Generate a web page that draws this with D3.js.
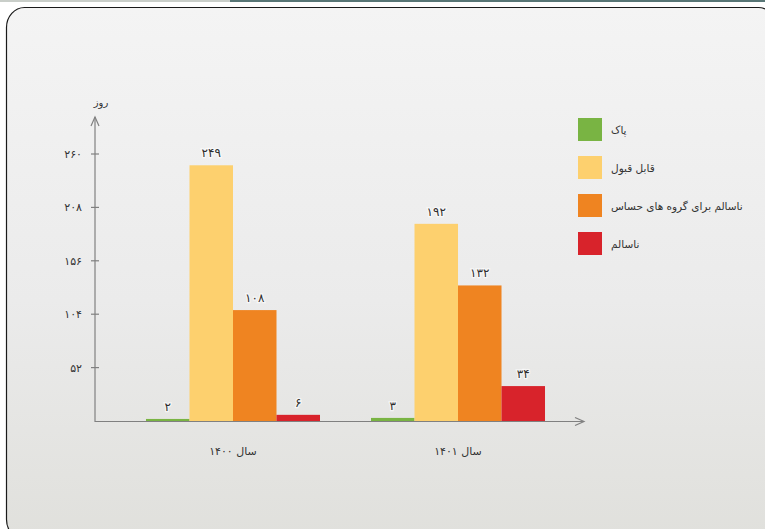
<!DOCTYPE html>
<html>
<head>
<meta charset="utf-8">
<script src="https://cdn.jsdelivr.net/npm/d3@7"></script>
<style>
  html, body { margin: 0; padding: 0; background: #ffffff; }
  svg { display: block; }
  text { font-family: "DejaVu Sans", "Noto Sans", sans-serif; }
</style>
</head>
<body>
<svg id="chart" width="765" height="529"></svg>
<script>
// Air quality days per year, by category
const years = ["سال ۱۴۰۰", "سال ۱۴۰۱"];
const categories = ["پاک", "قابل قبول", "ناسالم برای گروه های حساس", "ناسالم"];
const colors = ["#79b443", "#fdd06e", "#ef8421", "#d8232b"];
const values1400 = [2, 249, 108, 6];
const values1401 = [3, 192, 132, 34];
const yTicks = [52, 104, 156, 208, 260];
const yLabel = "روز";

const series = [values1400, values1401];
const faDigits = n => String(n).replace(/\d/g, d => "۰۱۲۳۴۵۶۷۸۹"[d]);

const svg = d3.select("#chart");

// background panel
const defs = svg.append("defs");
const grad = defs.append("linearGradient").attr("id", "bg").attr("x1", 0).attr("y1", 0).attr("x2", 0).attr("y2", 1);
grad.append("stop").attr("offset", "0%").attr("stop-color", "#f4f4f4");
grad.append("stop").attr("offset", "55%").attr("stop-color", "#ebebeb");
grad.append("stop").attr("offset", "100%").attr("stop-color", "#e0e0dc");

svg.append("rect").attr("x", 0).attr("y", 0).attr("width", 230).attr("height", 2).attr("fill", "#c9cec9");
svg.append("rect").attr("x", 230).attr("y", 0).attr("width", 535).attr("height", 2).attr("fill", "#587676");

svg.append("rect")
  .attr("x", 6.5).attr("y", 7.5).attr("width", 770).attr("height", 532)
  .attr("rx", 18).attr("ry", 20)
  .attr("fill", "url(#bg)").attr("stroke", "#1a1a1a").attr("stroke-width", 1.2);

// scales
const x = d3.scaleBand().domain(years).range([120.5, 570.5]).paddingInner(0.2267).paddingOuter(0.1133);
const xs = d3.scaleBand().domain(categories).range([0, x.bandwidth()]);
const y = d3.scaleLinear().domain([0, 260]).range([421, 154]);

const axisColor = "#808080";
const x0 = 95, xEnd = 584, yTop = 117, yBase = 421;

// bars
const groups = svg.append("g").selectAll("g").data(years).join("g")
  .attr("transform", d => `translate(${x(d)},0)`);

groups.each(function(yr, gi) {
  const g = d3.select(this);
  const vals = series[gi];
  g.selectAll("rect").data(vals).join("rect")
    .attr("x", (v, i) => xs(categories[i]))
    .attr("y", v => y(v))
    .attr("width", xs.bandwidth())
    .attr("height", v => y(0) - y(v))
    .attr("fill", (v, i) => colors[i]);
  g.selectAll("text").data(vals).join("text")
    .attr("x", (v, i) => xs(categories[i]) + xs.bandwidth() / 2)
    .attr("y", v => y(v) - 8)
    .attr("text-anchor", "middle")
    .attr("font-size", 12)
    .attr("fill", "#2e2e2e")
    .attr("stroke", "#ffffff").attr("stroke-width", 2.5).attr("stroke-opacity", 0.6)
    .attr("paint-order", "stroke")
    .text(v => faDigits(v));
});

// y axis
svg.append("line").attr("x1", x0).attr("x2", x0).attr("y1", yBase + 1).attr("y2", yTop)
  .attr("stroke", axisColor).attr("stroke-width", 1.2);
svg.append("path").attr("d", `M${x0 - 4},${yTop + 9} L${x0},${yTop} L${x0 + 4},${yTop + 9}`)
  .attr("fill", "none").attr("stroke", axisColor).attr("stroke-width", 1.2);

const yt = svg.append("g").selectAll("g").data(yTicks).join("g");
yt.append("line").attr("x1", x0 - 4).attr("x2", x0 + 4).attr("y1", d => y(d)).attr("y2", d => y(d))
  .attr("stroke", axisColor).attr("stroke-width", 1.2);
yt.append("text").attr("x", 82).attr("y", d => y(d) + 4).attr("text-anchor", "end")
  .attr("font-size", 11).attr("fill", "#333").text(d => faDigits(d));

svg.append("text").attr("x", 101).attr("y", 106).attr("text-anchor", "middle")
  .attr("font-size", 10).attr("fill", "#333").text(yLabel);

// x axis
svg.append("line").attr("x1", x0).attr("x2", xEnd).attr("y1", yBase + 0.5).attr("y2", yBase + 0.5)
  .attr("stroke", axisColor).attr("stroke-width", 1.2);
svg.append("path").attr("d", `M${xEnd - 9},${yBase - 3.5} L${xEnd},${yBase + 0.5} L${xEnd - 9},${yBase + 4.5}`)
  .attr("fill", "none").attr("stroke", axisColor).attr("stroke-width", 1.2);

svg.append("g").selectAll("text").data(years).join("text")
  .attr("x", d => x(d) + x.bandwidth() / 2)
  .attr("y", 455)
  .attr("text-anchor", "middle")
  .attr("font-size", 11).attr("fill", "#333")
  .text(d => d);

// legend
const legend = svg.append("g").selectAll("g").data(categories).join("g")
  .attr("transform", (d, i) => `translate(578,${118 + i * 38})`);
legend.append("rect").attr("width", 24).attr("height", 23).attr("fill", (d, i) => colors[i]);
legend.append("text").attr("x", 33).attr("y", 16).attr("text-anchor", "start")
  .attr("font-size", 10.5).attr("fill", "#333").text(d => d);
</script>
</body>
</html>
